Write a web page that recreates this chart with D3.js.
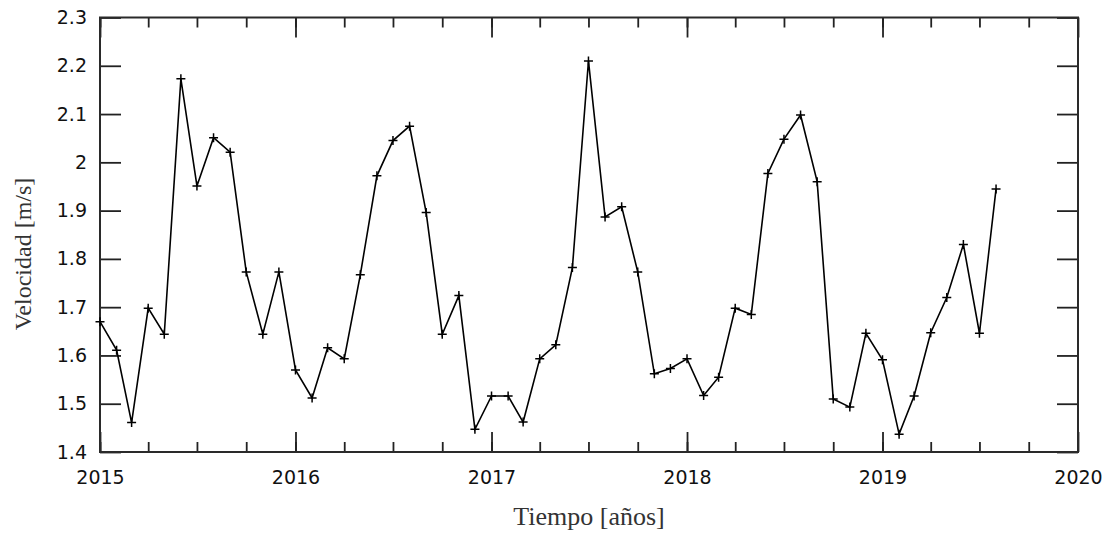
<!DOCTYPE html>
<html>
<head>
<meta charset="utf-8">
<script src="https://cdn.jsdelivr.net/npm/d3@7"></script>
<style>
  html, body { margin: 0; padding: 0; background: #fff; }
  svg { display: block; }
  .tick text { font-family: "DejaVu Sans", sans-serif; font-size: 19px; fill: #111; }
  .axis-label { font-family: "Liberation Serif", "Times New Roman", serif; font-size: 25px; fill: #333; }
</style>
</head>
<body>
<svg id="chart"></svg>
<script>
// monthly mean speed, Jan 2015 .. Aug 2019
const velocity = [
  1.670, 1.611, 1.461, 1.698, 1.644, 2.173, 1.951, 2.051, 2.021, 1.773, 1.644, 1.773,
  1.570, 1.512, 1.616, 1.593, 1.767, 1.972, 2.045, 2.075, 1.896, 1.644, 1.724, 1.447,
  1.516, 1.516, 1.462, 1.593, 1.622, 1.782, 2.210, 1.887, 1.908, 1.773, 1.562, 1.573,
  1.593, 1.517, 1.555, 1.698, 1.685, 1.977, 2.048, 2.098, 1.960, 1.510, 1.493, 1.646,
  1.591, 1.437, 1.516, 1.647, 1.720, 1.830, 1.646, 1.945
];
const startDate = new Date(Date.UTC(2015, 0, 1));
const endDate = new Date(Date.UTC(2020, 0, 1));
const yearTicks = [2015, 2016, 2017, 2018, 2019, 2020];
const yTicks = [1.4, 1.5, 1.6, 1.7, 1.8, 1.9, 2.0, 2.1, 2.2, 2.3];

const width = 1112;
const height = 533;
const margin = {top: 17.5, right: 34, bottom: 81, left: 100};
const plotW = width - margin.left - margin.right;
const plotH = height - margin.top - margin.bottom;

const svg = d3.select('#chart')
    .attr('width', width)
    .attr('height', height);

const g = svg.append('g')
    .attr('transform', `translate(${margin.left},${margin.top})`);

const x = d3.scaleUtc().domain([startDate, endDate]).range([0, plotW]);
const y = d3.scaleLinear().domain([1.4, 2.3]).range([plotH, 0]);

const points = velocity.map((v, i) => ({date: d3.utcMonth.offset(startDate, i), v}));

const majorX = yearTicks.map(yr => new Date(Date.UTC(yr, 0, 1)));
const minorX = d3.utcMonth.every(3).range(startDate, endDate);

// minor ticks (quarters), top and bottom, pointing inward
g.append('g')
    .attr('transform', `translate(0,${plotH})`)
    .call(d3.axisBottom(x).tickValues(minorX).tickSize(-10).tickFormat(''));
g.append('g')
    .call(d3.axisTop(x).tickValues(minorX).tickSize(-10).tickFormat(''));

// major ticks (years)
g.append('g')
    .attr('class', 'x-axis')
    .attr('transform', `translate(0,${plotH})`)
    .call(d3.axisBottom(x).tickValues(majorX).tickSize(-20).tickPadding(19)
        .tickFormat(d3.utcFormat('%Y')));
g.append('g')
    .call(d3.axisTop(x).tickValues(majorX).tickSize(-20).tickFormat(''));

g.append('g')
    .attr('class', 'y-axis')
    .call(d3.axisLeft(y).tickValues(yTicks).tickSize(-21).tickPadding(13)
        .tickFormat(d3.format('~g')));
g.append('g')
    .attr('transform', `translate(${plotW},0)`)
    .call(d3.axisRight(y).tickValues(yTicks).tickSize(-21).tickFormat(''));

g.selectAll('.domain').remove();
g.selectAll('.tick line').attr('stroke', '#222').attr('stroke-width', 1.8);

// frame
g.append('rect')
    .attr('width', plotW)
    .attr('height', plotH)
    .attr('fill', 'none')
    .attr('stroke', '#2a2a2a')
    .attr('stroke-width', 2);

const line = d3.line()
    .x(d => x(d.date))
    .y(d => y(d.v));

g.append('path')
    .datum(points)
    .attr('fill', 'none')
    .attr('stroke', '#000')
    .attr('stroke-width', 1.6)
    .attr('stroke-linejoin', 'miter')
    .attr('d', line);

// "+" markers
const s = 4.5;
g.append('g').selectAll('path.mark')
    .data(points)
    .join('path')
    .attr('class', 'mark')
    .attr('d', d => {
        const px = x(d.date), py = y(d.v);
        return `M${px - s},${py}H${px + s}M${px},${py - s}V${py + s}`;
    })
    .attr('stroke', '#000')
    .attr('stroke-width', 1.5);

// axis titles
svg.append('text')
    .attr('class', 'axis-label')
    .attr('text-anchor', 'middle')
    .attr('x', margin.left + plotW / 2)
    .attr('y', 525)
    .style('font-size', '26px')
    .text('Tiempo [años]');

svg.append('text')
    .attr('class', 'axis-label')
    .attr('text-anchor', 'middle')
    .attr('transform', 'translate(31,254) rotate(-90)')
    .style('font-size', '24px')
    .text('Velocidad [m/s]');
</script>
</body>
</html>
